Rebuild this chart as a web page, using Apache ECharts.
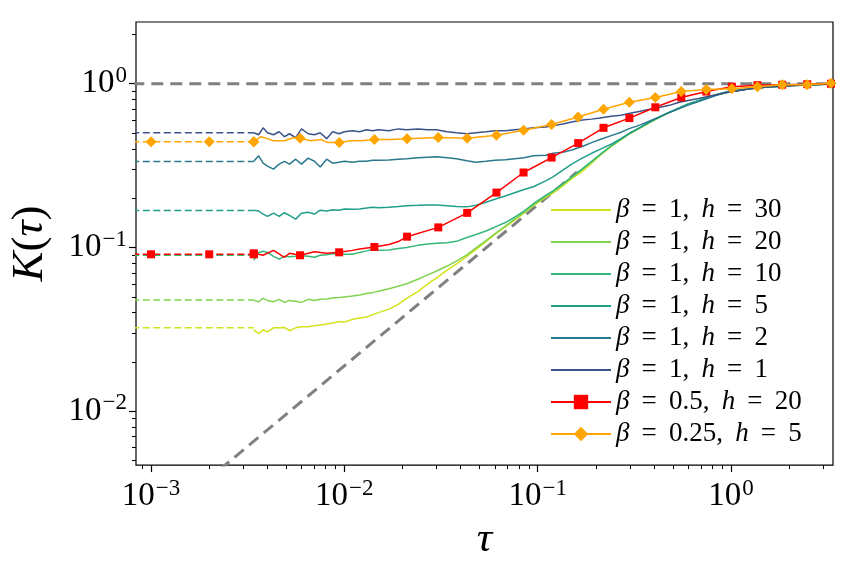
<!DOCTYPE html>
<html>
<head>
<meta charset="utf-8">
<script src="https://cdn.jsdelivr.net/npm/echarts@6/dist/echarts.min.js"></script>
<style>
html, body { margin: 0; padding: 0; background: #fff; }
#main { width: 856px; height: 566px; }
</style>
</head>
<body>
<div id="main"></div>
<script>
// axis range (tau, K)
var tauMin = 0.000836, tauMax = 3.37;
var kMin = 0.004685, kMax = 2.383;

// common tau grid of the beta = 1 curves
var tauGrid = [0.0034, 0.0036, 0.0038, 0.0040, 0.0043, 0.0046, 0.0049, 0.0052, 0.0056, 0.0060,
    0.0065, 0.0070, 0.0075, 0.0081, 0.0087, 0.0094, 0.010, 0.011, 0.012, 0.013,
    0.014, 0.015, 0.017, 0.019, 0.021, 0.024, 0.027, 0.030, 0.034, 0.038,
    0.043, 0.048, 0.054, 0.060, 0.068, 0.076, 0.085, 0.095, 0.11, 0.12,
    0.135, 0.15, 0.17, 0.19, 0.21, 0.24, 0.27, 0.30, 0.34, 0.38,
    0.43, 0.48, 0.54, 0.60, 0.68, 0.76, 0.85, 0.95, 1.1, 1.25,
    1.4, 1.6, 1.8, 2.0, 2.3, 2.6, 3.0, 3.36];

var kH30 = [0.0314, 0.0297, 0.0314, 0.0305, 0.0323, 0.0323, 0.0325, 0.0310, 0.0323, 0.0328,
    0.0328, 0.0332, 0.0336, 0.0341, 0.0346, 0.0353, 0.0351, 0.0363, 0.0371, 0.0376,
    0.0389, 0.0400, 0.0420, 0.0449, 0.0489, 0.0538, 0.0600, 0.0652, 0.0728, 0.0791,
    0.0883, 0.0973, 0.1086, 0.120, 0.1336, 0.147, 0.162, 0.180, 0.202, 0.215,
    0.238, 0.263, 0.291, 0.327, 0.365, 0.414, 0.456, 0.495, 0.538, 0.580,
    0.626, 0.666, 0.708, 0.749, 0.786, 0.824, 0.859, 0.889, 0.914, 0.933,
    0.946, 0.959, 0.966, 0.973, 0.980, 0.986, 0.993, 1.0];

var kH20 = [0.0475, 0.0466, 0.0489, 0.0475, 0.0466, 0.0482, 0.0462, 0.0475, 0.0469, 0.0462,
    0.0482, 0.0475, 0.0482, 0.0485, 0.0492, 0.0495, 0.0499, 0.0505, 0.0512, 0.0523,
    0.0530, 0.0541, 0.0560, 0.0580, 0.0600, 0.0639, 0.0680, 0.0718, 0.0770, 0.0825,
    0.0902, 0.0993, 0.110, 0.121, 0.135, 0.149, 0.164, 0.182, 0.205, 0.218,
    0.242, 0.268, 0.299, 0.332, 0.367, 0.416, 0.458, 0.497, 0.540, 0.582,
    0.628, 0.668, 0.710, 0.750, 0.788, 0.826, 0.860, 0.890, 0.915, 0.934,
    0.947, 0.960, 0.967, 0.974, 0.981, 0.987, 0.993, 1.0];

var kH10 = [0.0836, 0.0933, 0.0947, 0.0933, 0.0883, 0.0848, 0.0883, 0.0877, 0.0883, 0.0889,
    0.0883, 0.0871, 0.0896, 0.0902, 0.0914, 0.0914, 0.0908, 0.0908, 0.0933, 0.0953,
    0.0973, 0.0960, 0.0966, 0.0986, 0.100, 0.103, 0.105, 0.106, 0.107, 0.109,
    0.115, 0.120, 0.126, 0.133, 0.142, 0.153, 0.167, 0.185, 0.208, 0.222,
    0.245, 0.270, 0.302, 0.336, 0.369, 0.418, 0.460, 0.499, 0.542, 0.584,
    0.629, 0.669, 0.711, 0.751, 0.789, 0.826, 0.860, 0.890, 0.914, 0.933,
    0.946, 0.959, 0.967, 0.974, 0.981, 0.987, 0.993, 1.0];

var kH5 = [0.169, 0.167, 0.160, 0.155, 0.162, 0.155, 0.163, 0.157, 0.149, 0.162,
    0.164, 0.160, 0.169, 0.167, 0.170, 0.169, 0.172, 0.171, 0.172, 0.174,
    0.176, 0.175, 0.176, 0.178, 0.180, 0.181, 0.182, 0.182, 0.180, 0.178,
    0.177, 0.181, 0.189, 0.197, 0.206, 0.216, 0.226, 0.235, 0.255, 0.270,
    0.297, 0.323, 0.351, 0.376, 0.397, 0.428, 0.462, 0.500, 0.542, 0.585,
    0.630, 0.670, 0.712, 0.752, 0.789, 0.826, 0.860, 0.890, 0.914, 0.933,
    0.946, 0.959, 0.967, 0.974, 0.981, 0.987, 0.993, 1.0];

var kH2 = [0.336, 0.363, 0.327, 0.314, 0.301, 0.323, 0.336, 0.323, 0.346, 0.323,
    0.351, 0.336, 0.310, 0.346, 0.327, 0.332, 0.336, 0.332, 0.336, 0.336,
    0.341, 0.341, 0.342, 0.346, 0.348, 0.353, 0.356, 0.358, 0.353, 0.348,
    0.339, 0.332, 0.336, 0.341, 0.343, 0.348, 0.353, 0.363, 0.366, 0.376,
    0.381, 0.394, 0.414, 0.437, 0.456, 0.482, 0.506, 0.534, 0.561, 0.592,
    0.630, 0.668, 0.705, 0.740, 0.778, 0.815, 0.852, 0.884, 0.910, 0.931,
    0.945, 0.958, 0.966, 0.973, 0.980, 0.986, 0.993, 1.0];

var kH1 = [0.502, 0.488, 0.538, 0.502, 0.488, 0.509, 0.475, 0.495, 0.469, 0.530,
    0.495, 0.488, 0.502, 0.462, 0.509, 0.495, 0.509, 0.516, 0.509, 0.523,
    0.516, 0.523, 0.516, 0.530, 0.523, 0.530, 0.523, 0.523, 0.509, 0.502,
    0.495, 0.502, 0.509, 0.516, 0.516, 0.523, 0.530, 0.538, 0.545, 0.553,
    0.568, 0.584, 0.600, 0.608, 0.617, 0.634, 0.643, 0.661, 0.679, 0.698,
    0.718, 0.738, 0.770, 0.791, 0.813, 0.836, 0.859, 0.883, 0.908, 0.933,
    0.946, 0.959, 0.966, 0.973, 0.980, 0.986, 0.993, 1.0];

// plateau (dashed) part, from the left edge to tau = 0.0034
var plateauTau = [0.0008, 0.001, 0.002, 0.0034];
var plateauH30 = 0.0323, plateauH20 = 0.0477, plateauH10 = 0.0896;
var plateauH5 = 0.168, plateauH2 = 0.335, plateauH1 = 0.502;
var plateauRed = 0.0908, plateauOrange = 0.443;

// tau of the markers on the beta = 0.5 and beta = 0.25 curves
var markTau = [0.001, 0.002, 0.0034, 0.0059, 0.0094, 0.0143, 0.0211, 0.0306, 0.0432, 0.0612,
    0.0845, 0.118, 0.162, 0.219, 0.298, 0.406, 0.553, 0.745, 1.01, 1.37, 1.84, 2.48, 3.29];

var redTau = [0.0034, 0.0038, 0.0043, 0.0049, 0.0052, 0.0059, 0.0070, 0.0081, 0.0094, 0.011,
    0.012, 0.0143, 0.017, 0.019, 0.0211, 0.0306, 0.0432, 0.0612, 0.0845, 0.118,
    0.162, 0.219, 0.298, 0.406, 0.553, 0.745, 1.01, 1.37, 1.84, 2.48, 3.29];
var redK = [0.0921, 0.0896, 0.0960, 0.0871, 0.0921, 0.0896, 0.0941, 0.0921, 0.0934, 0.0960,
    0.0980, 0.1007, 0.1042, 0.1087, 0.1164, 0.1326, 0.1627, 0.2164, 0.287, 0.354,
    0.434, 0.538, 0.617, 0.718, 0.824, 0.896, 0.959, 0.980, 0.986, 0.993, 1.0];

var orangeTau = [0.0034, 0.0037, 0.0040, 0.0043, 0.0049, 0.0055, 0.0059, 0.0067, 0.0076, 0.0082,
    0.0094, 0.0108, 0.0122, 0.0143, 0.0174, 0.0211, 0.0306, 0.0432, 0.0612, 0.0845,
    0.118, 0.162, 0.219, 0.298, 0.406, 0.553, 0.745, 1.01, 1.37, 1.84, 2.48, 3.29];
var orangeK = [0.443, 0.475, 0.462, 0.449, 0.449, 0.469, 0.464, 0.449, 0.456, 0.437,
    0.437, 0.449, 0.449, 0.456, 0.456, 0.462, 0.469, 0.465, 0.485, 0.520,
    0.564, 0.626, 0.699, 0.770, 0.824, 0.896, 0.921, 0.933, 0.959, 0.986, 0.986, 1.007];

// reference lines: K = 1 and the small-tau asymptote
var unitTau = [0.0008, 3.4], unitK = [1, 1];
var diagTau = [0.0008, 0.16], diagK = [0.00158, 0.289];

var names = ['β = 1, h = 30', 'β = 1, h = 20', 'β = 1, h = 10', 'β = 1, h = 5',
    'β = 1, h = 2', 'β = 1, h = 1', 'β = 0.5, h = 20', 'β = 0.25, h = 5'];
var colors = ['#d2e21b', '#7fd34e', '#35b779', '#1f9e89', '#2a788e', '#3b528b', '#ff0000', '#ffa500'];

var lg = Math.log10;
var serif = 'Liberation Serif';

function pts(tau, k, marks) {
    return tau.map(function (t, i) {
        var p = {value: [lg(t), lg(k[i])]};
        if (marks && marks.indexOf(t) < 0) p.symbol = 'none';
        return p;
    });
}
function flat(v) {
    return plateauTau.map(function () { return v; });
}

// tick positions in log space
var majorX = [-3, -2, -1, 0], majorY = [-2, -1, 0];
function minors(lo, hi) {
    var out = [];
    for (var d = -5; d <= 1; d++) {
        for (var m = 2; m <= 9; m++) {
            var v = d + lg(m);
            if (v > lo && v < hi) out.push(v);
        }
    }
    return out;
}

function expLabel(v) {
    var e = Math.round(v);
    return '{b|10}{e|' + (e < 0 ? '\u2212' + (-e) : e) + '}';
}
var labelRich = {
    b: {fontFamily: serif, fontSize: 33, color: '#000'},
    e: {fontFamily: serif, fontSize: 23, color: '#000', padding: [0, 0, 16, 1]}
};

var series = [];
series.push({type: 'line', data: pts(diagTau, diagK), symbol: 'none', silent: true,
    lineStyle: {color: '#808080', width: 3, type: [12, 7]}});
series.push({type: 'line', data: pts(unitTau, unitK), symbol: 'none', silent: true,
    lineStyle: {color: '#808080', width: 3, type: [12, 7]}});

var betaOne = [[kH30, plateauH30], [kH20, plateauH20], [kH10, plateauH10],
    [kH5, plateauH5], [kH2, plateauH2], [kH1, plateauH1]];
betaOne.forEach(function (s, i) {
    series.push({type: 'line', data: pts(plateauTau, flat(s[1])), symbol: 'none',
        lineStyle: {color: colors[i], width: 1.5, type: [7, 3.5]}});
    series.push({type: 'line', name: names[i], data: pts(tauGrid, s[0]), symbol: 'none',
        color: colors[i], lineStyle: {color: colors[i], width: 1.5}});
});

// beta = 0.5 (squares), beta = 0.25 (diamonds)
[[redTau, redK, plateauRed, 'rect', 8], [orangeTau, orangeK, plateauOrange, 'diamond', 11]].forEach(function (s, j) {
    var i = j + 6;
    series.push({type: 'line', data: pts(plateauTau, flat(s[2]), markTau), symbol: s[3], symbolSize: s[4],
        showAllSymbol: true, color: colors[i], itemStyle: {color: colors[i]},
        lineStyle: {color: colors[i], width: 1.5, type: [7, 3.5]}});
    series.push({type: 'line', name: names[i], data: pts(s[0], s[1], markTau), symbol: s[3], symbolSize: s[4],
        showAllSymbol: true, color: colors[i], itemStyle: {color: colors[i]},
        lineStyle: {color: colors[i], width: 1.5}});
});

// legend: plain lines for beta = 1, line + marker for the other two
var legendData = names.map(function (n, i) {
    return i < 6 ? {name: n, itemStyle: {opacity: 0}} : {name: n};
});

var chart = echarts.init(document.getElementById('main'));
chart.setOption({
    animation: false,
    backgroundColor: '#fff',
    grid: {left: 135, top: 22, width: 698, height: 452, show: true, borderColor: '#000', borderWidth: 1.2},
    legend: {
        orient: 'vertical', left: 545, top: 191, itemWidth: 60, itemHeight: 18, itemGap: 4,
        data: legendData,
        formatter: function (n) {
            return n.replace('β', '{i|β}').replace('h', '{i|h}')
                .replace(/ = /g, '\u2009 = \u2009').replace(', ', ',\u2009 ');
        },
        textStyle: {fontFamily: serif, fontSize: 27, color: '#000', lineHeight: 28,
            rich: {i: {fontFamily: serif, fontStyle: 'italic', fontSize: 27, color: '#000'}}}
    },
    xAxis: [{
        type: 'value', min: lg(tauMin), max: lg(tauMax), position: 'bottom',
        splitLine: {show: false}, axisLine: {show: false, onZero: false},
        axisTick: {show: true, customValues: majorX, length: 7, lineStyle: {color: '#000', width: 1.2}},
        axisLabel: {customValues: majorX, formatter: expLabel, rich: labelRich, margin: 12},
        name: '{i|τ}', nameLocation: 'middle', nameGap: 30,
        nameTextStyle: {rich: {i: {fontFamily: serif, fontStyle: 'italic', fontSize: 43, color: '#000'}}}
    }, {
        type: 'value', min: lg(tauMin), max: lg(tauMax), position: 'bottom',
        splitLine: {show: false}, axisLine: {show: false, onZero: false}, axisLabel: {show: false},
        axisTick: {show: true, customValues: minors(lg(tauMin), lg(tauMax)), length: 4, lineStyle: {color: '#000', width: 1}}
    }],
    yAxis: [{
        type: 'value', min: lg(kMin), max: lg(kMax), position: 'left',
        splitLine: {show: false}, axisLine: {show: false, onZero: false},
        axisTick: {show: true, customValues: majorY, length: 7, lineStyle: {color: '#000', width: 1.2}},
        axisLabel: {customValues: majorY, formatter: expLabel, rich: labelRich, margin: 9},
        name: '{i|K}({i|τ})', nameLocation: 'middle', nameRotate: 90, nameGap: 83,
        nameTextStyle: {fontFamily: serif, fontSize: 45, color: '#000',
            rich: {i: {fontFamily: serif, fontStyle: 'italic', fontSize: 45, color: '#000'}}}
    }, {
        type: 'value', min: lg(kMin), max: lg(kMax), position: 'left',
        splitLine: {show: false}, axisLine: {show: false, onZero: false}, axisLabel: {show: false},
        axisTick: {show: true, customValues: minors(lg(kMin), lg(kMax)), length: 4, lineStyle: {color: '#000', width: 1}}
    }],
    series: series
});
</script>
</body>
</html>
